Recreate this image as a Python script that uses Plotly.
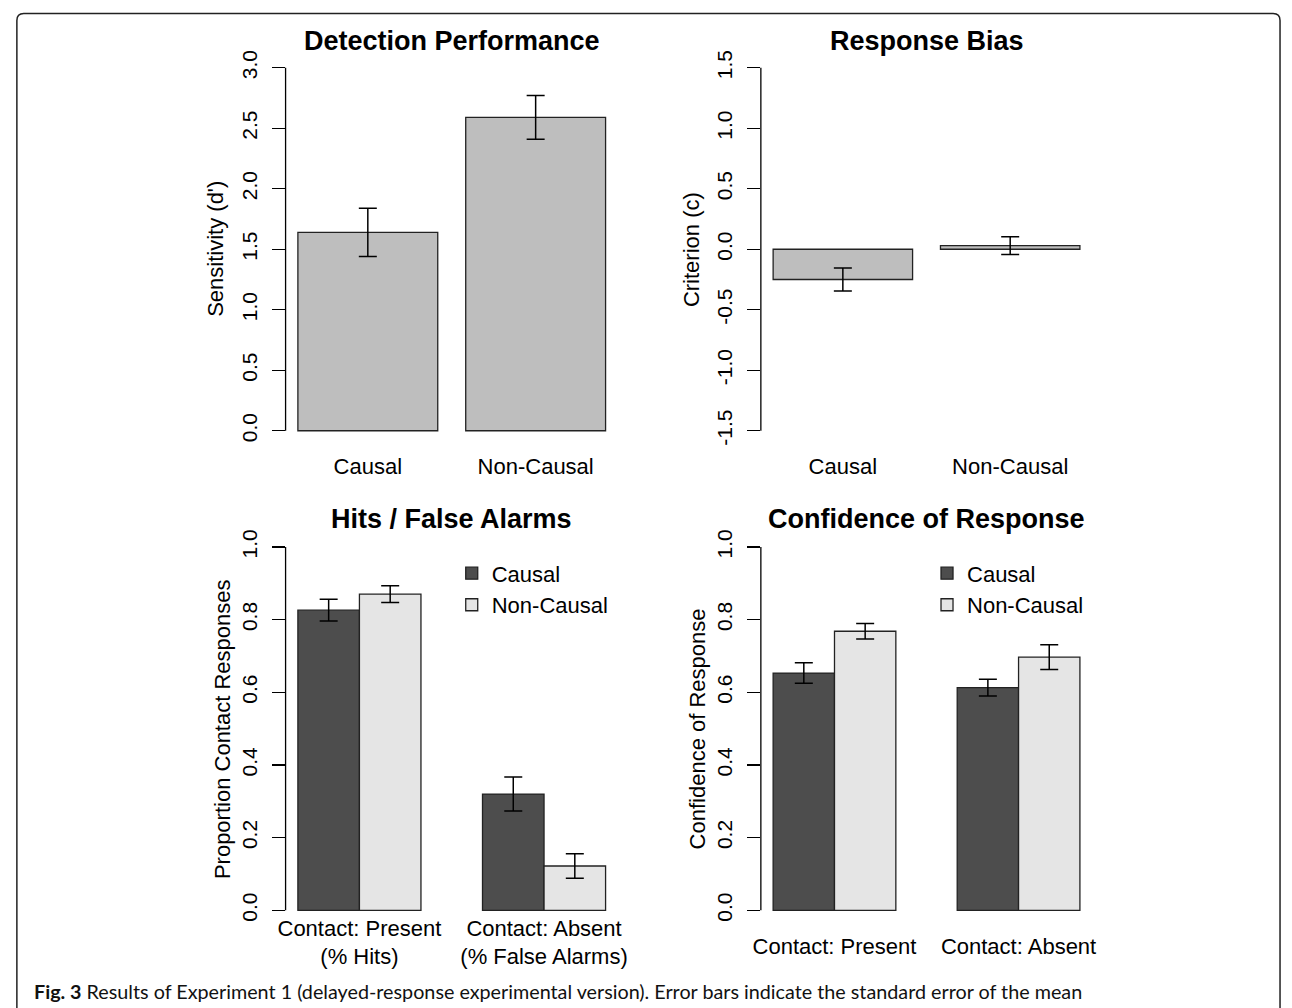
import plotly.graph_objects as go

W, H = 1292, 1008

# ---------------- data ----------------
groups = ["Causal", "Non-Causal"]
sens_mean = [1.64, 2.59]
sens_se = [0.20, 0.18]
crit_mean = [-0.25, 0.03]
crit_se = [0.095, 0.073]

hits_labels = ["Contact: Present<br>(% Hits)", "Contact: Absent<br>(% False Alarms)"]
hits_causal = [0.826, 0.320]
hits_causal_se = [0.030, 0.047]
hits_noncausal = [0.870, 0.122]
hits_noncausal_se = [0.023, 0.034]

conf_labels = ["Contact: Present", "Contact: Absent"]
conf_causal = [0.653, 0.613]
conf_causal_se = [0.028, 0.023]
conf_noncausal = [0.768, 0.697]
conf_noncausal_se = [0.021, 0.034]

sens_ticks = [0.0, 0.5, 1.0, 1.5, 2.0, 2.5, 3.0]
crit_ticks = [-1.5, -1.0, -0.5, 0.0, 0.5, 1.0, 1.5]
prop_ticks = [0.0, 0.2, 0.4, 0.6, 0.8, 1.0]

titles = ["Detection Performance", "Response Bias", "Hits / False Alarms", "Confidence of Response"]
ylabels = ["Sensitivity (d')", "Criterion (c)", "Proportion Contact Responses", "Confidence of Response"]
caption = ("<b>Fig. 3</b> Results of Experiment 1 (delayed-response experimental version). "
           "Error bars indicate the standard error of the mean")

# ---------------- style ----------------
FONT = "Liberation Sans, Arial, sans-serif"
C_TOP = "#bebebe"
C_DARK = "#4d4d4d"
C_LIGHT = "#e5e5e5"
EDGE = dict(color="#222222", width=1.3)
ERR = dict(type="data", color="black", thickness=1.5, width=9)

def px_x(p):
    return p / W

def px_y(p):
    return 1 - p / H

# panel domains (pixels)
colx = [(281.5, 618.5), (763.5, 1099.5)]
rowy = [(50.4, 443.6), (531.0, 924.6)]

fig = go.Figure()

# simple barplot positions (R barplot: width 1, space 0.2)
simple_x = [0.2 + 0.5 + i * 1.2 for i in range(len(groups))]
# grouped barplot positions (beside=TRUE, space c(0,1))
grp_x = lambda j: [1 + g * 3 + j + 0.5 for g in range(2)]
grp_centers = [1 + g * 3 + 1 for g in range(2)]

# Panel 1
fig.add_trace(go.Bar(x=simple_x, y=sens_mean, width=1, marker=dict(color=C_TOP, line=EDGE),
                     error_y=dict(array=sens_se, **ERR), showlegend=False, xaxis="x", yaxis="y"))
# Panel 2
fig.add_trace(go.Bar(x=simple_x, y=crit_mean, width=1, marker=dict(color=C_TOP, line=EDGE),
                     error_y=dict(array=crit_se, **ERR), showlegend=False, xaxis="x2", yaxis="y2"))
# Panel 3
fig.add_trace(go.Bar(x=grp_x(0), y=hits_causal, width=1, name="Causal",
                     marker=dict(color=C_DARK, line=EDGE), error_y=dict(array=hits_causal_se, **ERR),
                     xaxis="x3", yaxis="y3", legend="legend"))
fig.add_trace(go.Bar(x=grp_x(1), y=hits_noncausal, width=1, name="Non-Causal",
                     marker=dict(color=C_LIGHT, line=EDGE), error_y=dict(array=hits_noncausal_se, **ERR),
                     xaxis="x3", yaxis="y3", legend="legend"))
# Panel 4
fig.add_trace(go.Bar(x=grp_x(0), y=conf_causal, width=1, name="Causal",
                     marker=dict(color=C_DARK, line=EDGE), error_y=dict(array=conf_causal_se, **ERR),
                     xaxis="x4", yaxis="y4", legend="legend2"))
fig.add_trace(go.Bar(x=grp_x(1), y=conf_noncausal, width=1, name="Non-Causal",
                     marker=dict(color=C_LIGHT, line=EDGE), error_y=dict(array=conf_noncausal_se, **ERR),
                     xaxis="x4", yaxis="y4", legend="legend2"))

tickfont = dict(family=FONT, size=21, color="black")
labfont = dict(family=FONT, size=22, color="black")

def yax(dom, ticks, rng, anchor):
    return dict(domain=[px_y(dom[1]), px_y(dom[0])], range=rng, tickvals=ticks,
                ticktext=[f"{t:.1f}" for t in ticks], tickangle=-90, ticks="outside",
                ticklen=13, tickwidth=1.3, tickcolor="black", showline=False, showgrid=False,
                zeroline=False, tickfont=tickfont, anchor=anchor, fixedrange=True,
                ticklabelstandoff=6)

def xax(dom, vals, text, rng, anchor, standoff):
    return dict(domain=[px_x(dom[0]), px_x(dom[1])], range=rng, tickvals=vals, ticktext=text,
                ticks="", showline=False, showgrid=False, zeroline=False, tickfont=labfont,
                anchor=anchor, fixedrange=True, ticklabelstandoff=standoff)

def ext(lo, hi):
    d = (hi - lo) * 0.04
    return [lo - d, hi + d]

simple_rng = ext(0.2, 2.4)
grp_rng = ext(1, 6)

fig.update_layout(
    autosize=True, margin=dict(l=0, r=0, t=0, b=0, pad=0),
    paper_bgcolor="white", plot_bgcolor="white", barmode="overlay",
    font=dict(family=FONT, color="black"),
    xaxis=xax(colx[0], simple_x, groups, simple_rng, "y", 6),
    yaxis=yax(rowy[0], sens_ticks, ext(0, 3), "x"),
    xaxis2=xax(colx[1], simple_x, groups, simple_rng, "y2", 6),
    yaxis2=yax(rowy[0], crit_ticks, ext(-1.5, 1.5), "x2"),
    xaxis3=xax(colx[0], grp_centers, hits_labels, grp_rng, "y3", -12),
    yaxis3=yax(rowy[1], prop_ticks, ext(0, 1), "x3"),
    xaxis4=xax(colx[1], grp_centers, conf_labels, grp_rng, "y4", 6),
    yaxis4=yax(rowy[1], prop_ticks, ext(0, 1), "x4"),
    legend=dict(x=px_x(450), y=px_y(551), xanchor="left", yanchor="top",
                font=labfont, bgcolor="rgba(0,0,0,0)", borderwidth=0, tracegroupgap=0),
    legend2=dict(x=px_x(932), y=px_y(551), xanchor="left", yanchor="top",
                 font=labfont, bgcolor="rgba(0,0,0,0)", borderwidth=0, tracegroupgap=0),
)

# R-style y axis lines spanning first to last tick
for i, (ticks, yref) in enumerate([(sens_ticks, "y"), (crit_ticks, "y2"), (prop_ticks, "y3"), (prop_ticks, "y4")]):
    xr = ["x", "x2", "x3", "x4"][i]
    fig.add_shape(type="line", xref=f"{xr} domain", yref=yref, x0=0, x1=0,
                  y0=min(ticks), y1=max(ticks), line=dict(color="black", width=1.3))

# panel titles and y labels
title_y = [38, 38, 518, 518]
ylab_off = [71, 71, 64, 64]
doms = [(colx[0], rowy[0]), (colx[1], rowy[0]), (colx[0], rowy[1]), (colx[1], rowy[1])]
for i in range(4):
    (x0, x1), (y0, y1) = doms[i]
    fig.add_annotation(text=f"<b>{titles[i]}</b>", xref="paper", yref="paper",
                       x=px_x((x0 + x1) / 2), y=px_y(title_y[i]), xanchor="center", yanchor="middle",
                       showarrow=False, font=dict(family=FONT, size=27, color="black"))
    fig.add_annotation(text=ylabels[i], xref="paper", yref="paper", textangle=-90,
                       x=px_x(x0 - ylab_off[i]), y=px_y((y0 + y1) / 2), xanchor="center",
                       yanchor="middle", showarrow=False, font=labfont)

# caption
fig.add_annotation(text=caption, xref="paper", yref="paper", x=px_x(24), y=px_y(991),
                   xanchor="left", yanchor="middle", showarrow=False,
                   font=dict(family="Lato, Open Sans, sans-serif", size=19.75, color="#111111"))

# figure frame (rounded top corners, open at bottom)
fx0, fx1, fy0 = px_x(9), px_x(1290), px_y(10.5)
r_x, r_y = 7 / W, 7 / H
path = (f"M {fx0},0 L {fx0},{fy0 - r_y} Q {fx0},{fy0} {fx0 + r_x},{fy0} "
        f"L {fx1 - r_x},{fy0} Q {fx1},{fy0} {fx1},{fy0 - r_y} L {fx1},0")
fig.add_shape(type="path", xref="paper", yref="paper", path=path,
              line=dict(color="#222222", width=1.5))

post = (
    "document.documentElement.style.margin='0';document.documentElement.style.padding='0';"
    "document.documentElement.style.overflow='hidden';"
    "document.body.style.margin='0';document.body.style.padding='0';"
    "document.body.style.overflow='hidden';"
    "var gd=document.getElementById('{plot_id}');"
    "gd.style.width='100vw';gd.style.height='100vh';"
    "Plotly.Plots.resize(gd);"
)

fig.write_html("out.html",
               config=dict(responsive=True, displayModeBar=False, staticPlot=True),
               default_width="100vw", default_height="100vh",
               post_script=post)
